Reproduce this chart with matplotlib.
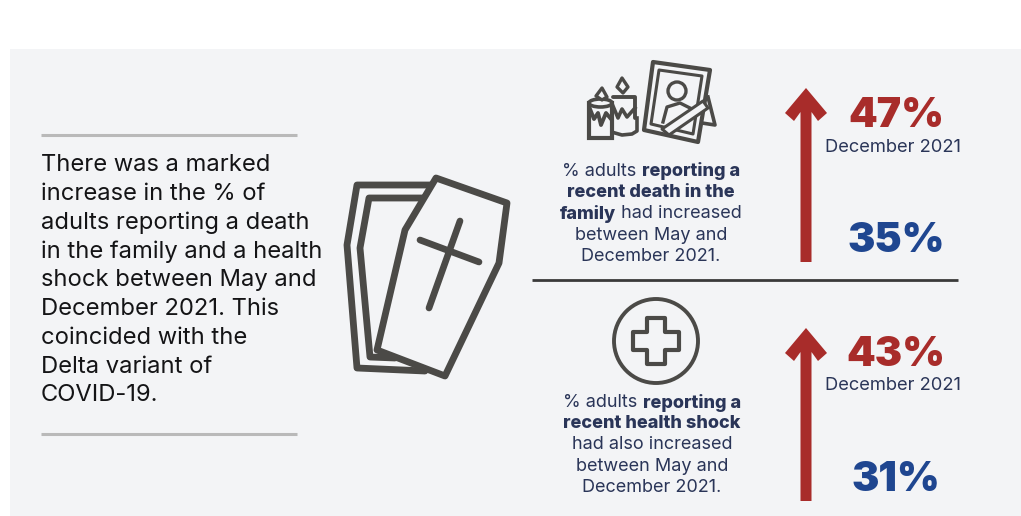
"""Infographic panel: deaths and health shocks reported in May and December 2021."""

import matplotlib

matplotlib.use("Agg")
import matplotlib.pyplot as plt
from matplotlib.patches import Circle, Ellipse, Polygon, Rectangle

plt.rcParams["font.family"] = ["Inter", "DejaVu Sans"]

W, H = 1021, 516
PANEL = "#f3f4f6"
ICON = "#4b4a47"
NAVY = "#2a3558"
RED = "#a82c2a"
BLUE = "#1f4690"
RULE = "#b9b9b9"

intro_lines = [
    "There was a marked",
    "increase in the % of",
    "adults reporting a death",
    "in the family and a health",
    "shock between May and",
    "December 2021. This",
    "coincided with the",
    "Delta variant of",
    "COVID-19.",
]
death_caption = [
    [("% adults ", False), ("reporting a", True)],
    [("recent death in the", True)],
    [("family", True), (" had increased", False)],
    [("between May and", False)],
    [("December 2021.", False)],
]
health_caption = [
    [("% adults ", False), ("reporting a", True)],
    [("recent health shock", True)],
    [("had also increased", False)],
    [("between May and", False)],
    [("December 2021.", False)],
]
later_label = "December 2021"
death_pct = {"may": 35, "dec": 47}
health_pct = {"may": 31, "dec": 43}


def outline(ax, pts, lw=4.9, closed=True, color=ICON, fill="none", z=3):
    ax.add_patch(Polygon(pts, closed=closed, fill=fill != "none", facecolor=fill,
                         edgecolor=color, lw=lw, joinstyle="round", capstyle="round", zorder=z))


def caption(ax, fig, lines, cx, y0, step):
    """Centre lines of mixed regular and bold runs on cx."""
    rend = fig.canvas.get_renderer()
    inv = ax.transData.inverted()
    for i, runs in enumerate(lines):
        y = y0 + i * step
        parts = [ax.text(0, y, s.replace(" ", "\u00a0"), fontsize=13, color=NAVY, va="center",
                         ha="left", fontweight=800 if b else "normal") for s, b in runs]
        widths = []
        for t in parts:
            bb = t.get_window_extent(rend)
            widths.append(inv.transform((bb.x1, 0))[0] - inv.transform((bb.x0, 0))[0])
        x = cx - sum(widths) / 2
        for t, w in zip(parts, widths):
            t.set_x(x)
            x += w


def up_arrow(ax, x, y_bottom, y_tip):
    # Chevron head: the barbs sweep back past the point where they meet the shaft
    half = 5.5
    pts = [(x - half, y_bottom), (x - half, y_tip + 24), (x - 12, y_tip + 33), (x - 21, y_tip + 25),
           (x, y_tip), (x + 21, y_tip + 25), (x + 12, y_tip + 33), (x + half, y_tip + 24),
           (x + half, y_bottom)]
    ax.add_patch(Polygon(pts, closed=True, facecolor=RED, edgecolor="none", zorder=3))


def coffin(ax):
    outline(ax, [(432, 185), (357, 185), (347, 245), (357, 368), (425, 371)], closed=False)
    outline(ax, [(424, 198), (369, 198), (360, 248), (370, 357), (395, 358)], closed=False)
    lid = [(436, 178), (507, 203), (499, 263), (445, 376), (377, 350), (405, 230)]
    outline(ax, lid, fill=PANEL, z=4)
    ax.plot([460, 429], [221, 308], color=ICON, lw=4.8, solid_capstyle="round", zorder=5)
    ax.plot([420, 479], [240, 262], color=ICON, lw=4.8, solid_capstyle="round", zorder=5)


def candles_and_portrait(ax):
    # Portrait frame with its stand
    outline(ax, [(653, 62), (710, 70), (698, 142), (644, 130)], lw=3.0, z=4)
    outline(ax, [(659, 70), (702, 76), (693, 134), (651, 124)], lw=2.2, z=4)
    ax.plot([708, 715, 702], [97, 125, 123], color=ICON, lw=2.6, zorder=3)
    ax.add_patch(Circle((677, 91), 9, fill=False, edgecolor=ICON, lw=2.4, zorder=5))
    ax.plot([663, 667, 680, 690], [122, 107, 103, 108], color=ICON, lw=2.4, zorder=5)
    outline(ax, [(662, 129), (703, 101), (708, 108), (669, 135)], lw=2.2, fill=PANEL, z=5)
    # Rear candle
    outline(ax, [(613, 97), (635, 97), (635, 118)], lw=2.8, closed=False, z=3)
    outline(ax, [(622, 78), (628, 87), (623, 93), (617, 87)], lw=2.4, z=3)
    ax.plot([615, 622, 632, 637, 637], [133, 135, 134, 131, 118], color=ICON, lw=2.6, zorder=3)
    ax.plot([613, 618, 622, 627, 635], [106, 118, 109, 117, 108], color=ICON, lw=2.6, zorder=5)
    # Front candle
    ax.add_patch(Rectangle((589, 103), 23, 35, facecolor=PANEL, edgecolor=ICON, lw=3.0, zorder=4))
    ax.add_patch(Ellipse((600.5, 103), 23, 8, facecolor=PANEL, edgecolor=ICON, lw=2.6, zorder=5))
    outline(ax, [(602, 88), (607, 97), (602, 100), (596, 96)], lw=2.4, fill=PANEL, z=6)
    ax.plot([590, 594, 598, 601, 606, 611], [109, 119, 113, 125, 113, 119],
            color=ICON, lw=2.8, zorder=5)


def medical_cross(ax):
    ax.add_patch(Circle((656, 341), 42, fill=False, edgecolor=ICON, lw=2.8, zorder=3))
    cx, cy, a, b = 656, 341, 9, 23
    pts = [(cx - a, cy - b), (cx + a, cy - b), (cx + a, cy - a), (cx + b, cy - a),
           (cx + b, cy + a), (cx + a, cy + a), (cx + a, cy + b), (cx - a, cy + b),
           (cx - a, cy + a), (cx - b, cy + a), (cx - b, cy - a), (cx - a, cy - a)]
    outline(ax, pts, lw=3.0)


def main():
    fig = plt.figure(figsize=(W / 100, H / 100), dpi=100)
    ax = fig.add_axes([0, 0, 1, 1])
    ax.set_xlim(0, W)
    ax.set_ylim(H, 0)
    ax.axis("off")

    ax.add_patch(Rectangle((10, 49), W - 10, H - 49, facecolor=PANEL, edgecolor="none", zorder=0))

    # Left column
    ax.plot([41, 297], [135, 135], color=RULE, lw=2.2, solid_capstyle="butt")
    ax.plot([41, 297], [434, 434], color=RULE, lw=2.2, solid_capstyle="butt")
    for i, line in enumerate(intro_lines):
        ax.text(41, 165 + i * 28.8, line, fontsize=17.1, color="#141416", va="center", ha="left")

    coffin(ax)
    candles_and_portrait(ax)
    medical_cross(ax)

    fig.canvas.draw()
    caption(ax, fig, death_caption, 651, 171.5, 21.2)
    caption(ax, fig, health_caption, 652, 402.5, 21.2)

    ax.plot([532, 958], [279.5, 279.5], color="#3a3a3a", lw=2.0, solid_capstyle="butt")

    up_arrow(ax, 806, 262, 88)
    up_arrow(ax, 806, 501, 328)

    big = dict(fontsize=29.5, fontweight=900, ha="center", va="center", zorder=4)
    ax.text(896, 116, f"{death_pct['dec']}%", color=RED, **big)
    ax.text(896, 241, f"{death_pct['may']}%", color=BLUE, **big)
    ax.text(896, 355, f"{health_pct['dec']}%", color=RED, **big)
    ax.text(896, 480, f"{health_pct['may']}%", color=BLUE, **big)
    ax.text(893, 147, later_label, fontsize=13.2, color=NAVY, ha="center", va="center")
    ax.text(893, 386, later_label, fontsize=13.2, color=NAVY, ha="center", va="center")

    fig.savefig("out.png", dpi=100, facecolor="white")
    plt.close(fig)


if __name__ == "__main__":
    main()
